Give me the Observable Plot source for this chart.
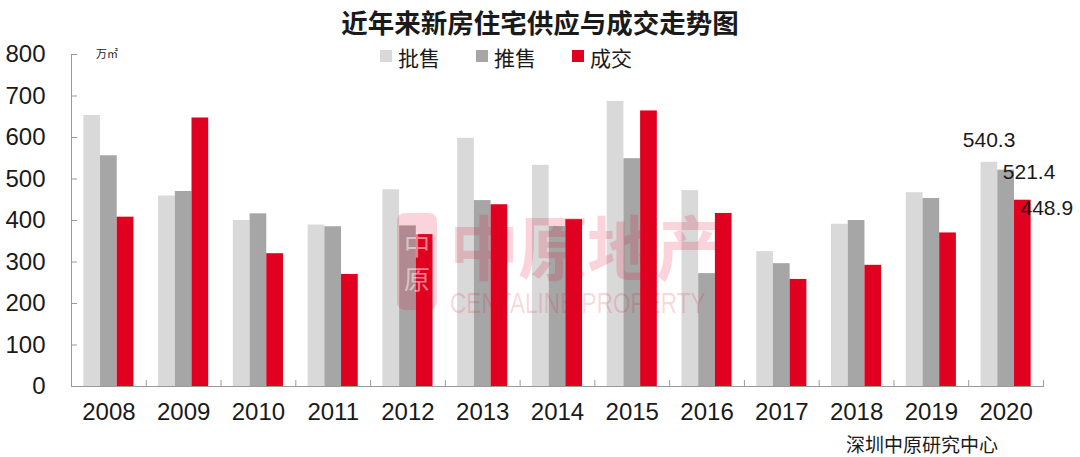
<!DOCTYPE html>
<html><head><meta charset="utf-8">
<script src="https://cdn.jsdelivr.net/npm/d3@7"></script>
<script src="https://cdn.jsdelivr.net/npm/@observablehq/plot@0.6"></script>
<style>
body{margin:0;background:#fff;}
#wrap{position:relative;width:1080px;height:457px;overflow:hidden;font-family:"Noto Sans CJK SC","Noto Sans",sans-serif;color:#1a1a1a;}
#chart{position:absolute;left:0;top:0;}
.abs{position:absolute;line-height:1;white-space:nowrap;}
#title{left:0;width:1080px;text-align:center;top:9px;font-size:26.5px;font-weight:bold;}
.sw{position:absolute;width:12px;height:12px;top:50px;}
.lg{font-size:21px;top:47px;}
#unit{left:96px;top:48px;font-size:11px;}
#caption{left:846px;top:434px;font-size:19px;}
#wm{position:absolute;left:0;top:0;width:1080px;height:457px;pointer-events:none;}
#wmcn{left:449px;top:210px;font-size:70px;font-weight:bold;color:rgba(225,0,35,0.17);letter-spacing:-1px;}
#wmen{left:450px;top:289px;font-size:29px;font-family:"Liberation Sans",Arial,sans-serif;color:rgba(225,0,35,0.17);transform:scaleX(0.78);transform-origin:left top;}
#logo{position:absolute;left:397px;top:213px;width:40px;height:97px;border-radius:8px;background:rgba(225,0,35,0.17);}
#logotx{position:absolute;left:5px;top:14px;width:30px;font-size:26px;line-height:34px;text-align:center;color:rgba(255,255,255,0.5);}
</style></head><body>
<div id="wrap">
  <div id="chart"></div>
  <div id="title" class="abs">近年来新房住宅供应与成交走势图</div>
  <div id="legend"></div>
  <div id="unit" class="abs">万㎡</div>
  <div id="caption" class="abs">深圳中原研究中心</div>
  <div id="wm">
    <div id="logo"><div id="logotx">中原</div></div>
    <div id="wmcn" class="abs">中原地产</div>
    <div id="wmen" class="abs">CENTALINE PROPERTY</div>
  </div>
</div>
<script>
const years = ["2008","2009","2010","2011","2012","2013","2014","2015","2016","2017","2018","2019","2020"];
const pishou = [653, 459, 400, 389, 474, 598, 533, 687, 472, 325, 391, 467, 540.3];
const tuishou = [556, 470, 416, 385, 387, 448, 386, 549, 272, 296, 400, 453, 521.4];
const chengjiao = [408, 647, 320, 270, 366, 438, 402, 664, 417, 258, 292, 370, 448.9];
const seriesNames = ["批售","推售","成交"];
const seriesColors = ["#d9d9d9","#a6a6a6","#e0001f"];
const yTicks = [0,100,200,300,400,500,600,700,800];

const seriesValues = [pishou, tuishou, chengjiao];
const table = seriesNames.flatMap((s, i) => years.map((y, j) => ({year: y, series: s, value: seriesValues[i][j]})));

const W = 1080, H = 457, mL = 71, mR = 37, mT = 54, mB = 71;
const band = (W - mL - mR) / years.length;
const barW = 16.7;
const off = (band - 3 * barW) / 2;
const tickUnits = 6 * 800 / (H - mT - mB);

const barMarks = seriesNames.map((s, i) => Plot.barY(table.filter(d => d.series === s), {
  x: "year", y: "value", fill: seriesColors[i],
  insetLeft: off + barW * i, insetRight: band - off - barW * (i + 1)
}));

const last = years.length - 1;
const labelSpecs = [
  {v: pishou[last], dx: -17, dy: -21.8, anchor: "middle"},
  {v: tuishou[last], dx: -3.3, dy: 2, anchor: "start"},
  {v: chengjiao[last], dx: 14.4, dy: 7.6, anchor: "start"}
];
const labelMarks = labelSpecs.map(l => Plot.text([{year: years[last], value: l.v}], {
  x: "year", y: "value", text: d => d.value.toFixed(1), dx: l.dx, dy: l.dy,
  textAnchor: l.anchor, fontSize: 21, fill: "#1a1a1a"
}));

const chart = Plot.plot({
  width: W, height: H,
  marginLeft: mL, marginRight: mR, marginTop: mT, marginBottom: mB,
  style: {fontFamily: "'Liberation Sans', Arial, sans-serif", background: "transparent", color: "#1a1a1a"},
  x: {domain: years, padding: 0, round: false},
  y: {domain: [0, 800]},
  marks: [
    ...barMarks,
    Plot.frame({anchor: "left", stroke: "#9a9a9a"}),
    Plot.frame({anchor: "bottom", stroke: "#9a9a9a"}),
    Plot.ruleX(years, {x: d => d, y1: 0, y2: tickUnits, dx: -band / 2, stroke: "#9a9a9a"}),
    Plot.ruleX([years[last]], {x: d => d, y1: 0, y2: tickUnits, dx: band / 2, stroke: "#9a9a9a"}),
    Plot.axisY({ticks: yTicks, tickSize: -6, tickPadding: 32, fontSize: 24, stroke: "#9a9a9a", fill: "#1a1a1a", tickFormat: d => String(d), label: null}),
    Plot.axisX({tickSize: 0, tickPadding: 16, fontSize: 24, fill: "#1a1a1a", label: null}),
    ...labelMarks
  ]
});
document.getElementById("chart").appendChild(chart);

const legend = document.getElementById("legend");
const swX = [380, 476, 572];
seriesNames.forEach((s, i) => {
  const sw = document.createElement("div");
  sw.className = "sw"; sw.style.left = swX[i] + "px"; sw.style.background = seriesColors[i];
  legend.appendChild(sw);
  const t = document.createElement("div");
  t.className = "abs lg"; t.style.left = (swX[i] + 18) + "px"; t.textContent = s;
  legend.appendChild(t);
});
</script>
</body></html>
